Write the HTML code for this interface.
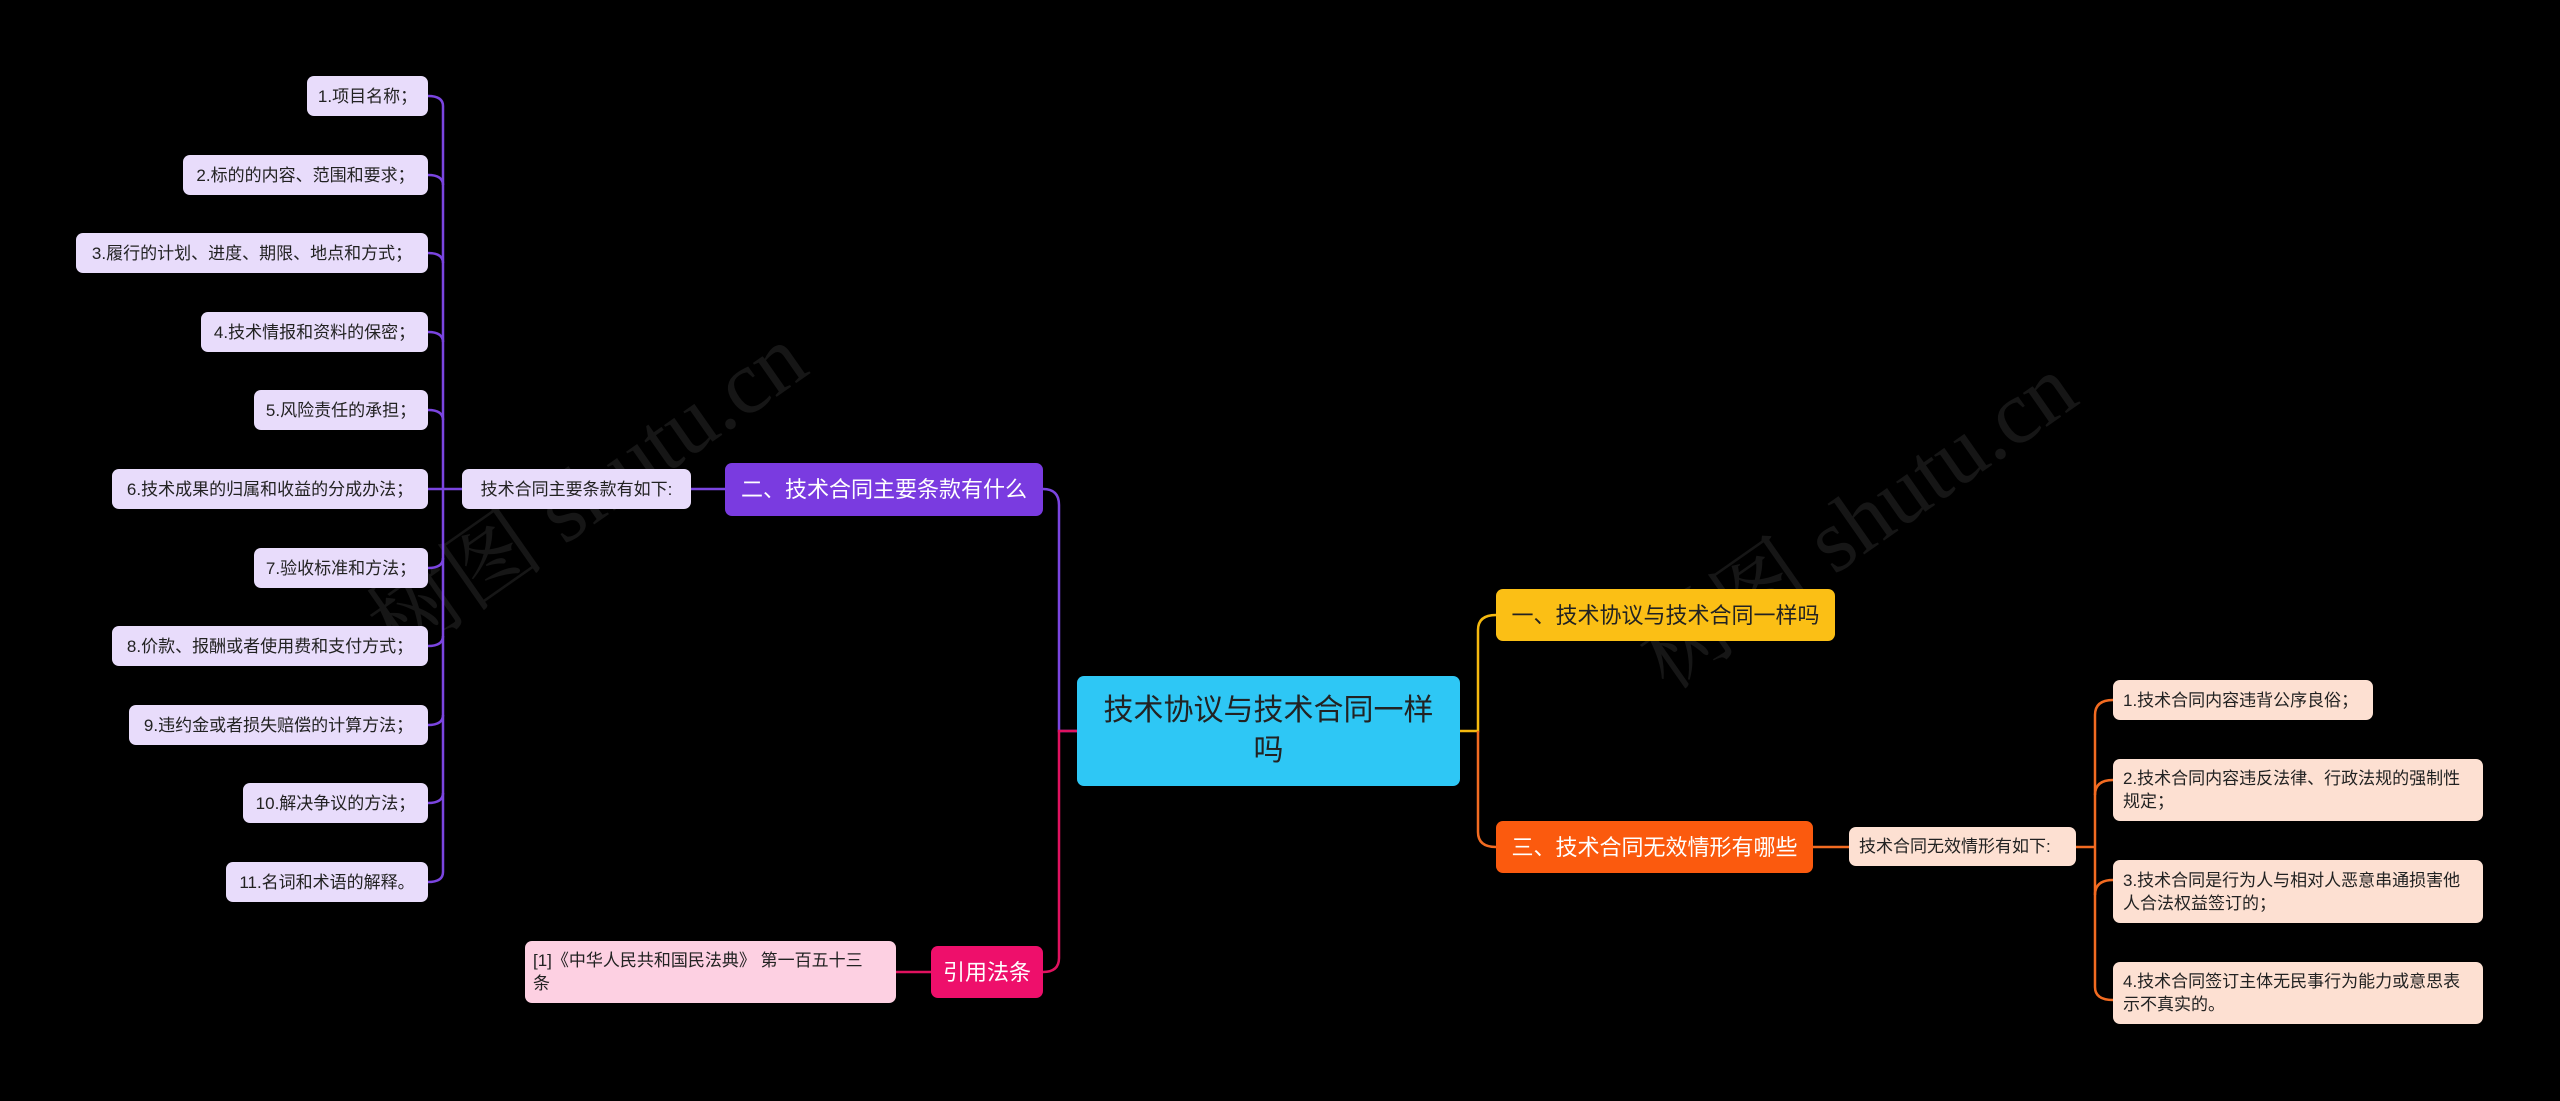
<!DOCTYPE html>
<html><head><meta charset="utf-8"><style>
body{margin:0;width:2560px;height:1101px;background:#000;position:relative;overflow:hidden;font-family:"Liberation Sans","Noto Sans CJK SC",sans-serif}
.n{position:absolute;box-sizing:border-box;display:flex;align-items:center;border-radius:7px;color:#222;font-size:17px;padding:0 10px;line-height:23px}
.p{background:#e8dcfb;justify-content:center;white-space:nowrap;padding:0 4px}
.o{background:#fde0d2}
.wm{position:absolute;color:#161616;font-size:90px;transform:rotate(-35deg);font-family:"Liberation Serif","Noto Serif CJK SC",serif;white-space:nowrap}
</style></head><body>
<div class="wm" style="left:330px;top:420px">树图 shutu.cn</div>
<div class="wm" style="left:1600px;top:450px">树图 shutu.cn</div>
<svg width="2560" height="1101" style="position:absolute;left:0;top:0" fill="none" stroke-width="2.5">
<g stroke="#7b45e0">
<path d="M443 106V872"/>
<path d="M428 96q15 0 15 10"/><path d="M428 175q15 0 15 10"/><path d="M428 253q15 0 15 10"/><path d="M428 332q15 0 15 10"/><path d="M428 410q15 0 15 10"/>
<path d="M428 489H462"/>
<path d="M428 568q15 0 15-10"/><path d="M428 646q15 0 15-10"/><path d="M428 725q15 0 15-10"/><path d="M428 803q15 0 15-10"/><path d="M428 882q15 0 15-10"/>
<path d="M691 489H725"/>
<path d="M1043 489q16 0 16 16V731q0 0 18 0"/>
</g>
<g stroke="#e0125f"><path d="M1077 731H1059V958q0 14-16 14"/><path d="M896 972H931"/></g>
<g stroke="#f5b90f"><path d="M1460 731H1478V630q0-15 18-15"/></g>
<g stroke="#f26b21"><path d="M1478 731V832q0 15 18 15"/><path d="M1813 847H1849"/><path d="M2076 847H2095"/>
<path d="M2095 715V987"/><path d="M2113 700q-18 0-18 15"/><path d="M2113 780q-18 0-18 15"/><path d="M2113 880q-18 0-18 15"/><path d="M2113 1000q-18 0-18-13"/></g>
</svg>
<div class="n p" style="left:307px;top:76px;width:121px;height:40px">1.项目名称；</div>
<div class="n p" style="left:183px;top:155px;width:245px;height:40px">2.标的的内容、范围和要求；</div>
<div class="n p" style="left:76px;top:233px;width:352px;height:40px">3.履行的计划、进度、期限、地点和方式；</div>
<div class="n p" style="left:201px;top:312px;width:227px;height:40px">4.技术情报和资料的保密；</div>
<div class="n p" style="left:254px;top:390px;width:174px;height:40px">5.风险责任的承担；</div>
<div class="n p" style="left:112px;top:469px;width:316px;height:40px">6.技术成果的归属和收益的分成办法；</div>
<div class="n p" style="left:254px;top:548px;width:174px;height:40px">7.验收标准和方法；</div>
<div class="n p" style="left:112px;top:626px;width:316px;height:40px">8.价款、报酬或者使用费和支付方式；</div>
<div class="n p" style="left:129px;top:705px;width:299px;height:40px">9.违约金或者损失赔偿的计算方法；</div>
<div class="n p" style="left:243px;top:783px;width:185px;height:40px">10.解决争议的方法；</div>
<div class="n p" style="left:226px;top:862px;width:202px;height:40px">11.名词和术语的解释。</div>
<div class="n p" style="left:462px;top:469px;width:229px;height:40px">技术合同主要条款有如下:</div>
<div class="n" style="left:725px;top:463px;width:318px;height:53px;background:#7a3be0;color:#fff;font-size:22px;justify-content:center">二、技术合同主要条款有什么</div>
<div class="n" style="left:1077px;top:676px;width:383px;height:110px;background:#2ec7f5;color:#222;font-size:30px;line-height:40px;text-align:center;justify-content:center;padding:0 20px">技术协议与技术合同一样吗</div>
<div class="n" style="left:931px;top:946px;width:112px;height:52px;background:#ee0f6b;color:#fff;font-size:22px;justify-content:center">引用法条</div>
<div class="n" style="left:525px;top:941px;width:371px;height:62px;background:#fdd0e2;font-size:17px;padding:0 8px;white-space:nowrap"><div>[1]《中华人民共和国民法典》 第一百五十三<br>条</div></div>
<div class="n" style="left:1496px;top:589px;width:339px;height:52px;background:#fbbf15;color:#222;font-size:22px;justify-content:center">一、技术协议与技术合同一样吗</div>
<div class="n" style="left:1496px;top:821px;width:317px;height:52px;background:#fb5a0e;color:#fff;font-size:22px;justify-content:center">三、技术合同无效情形有哪些</div>
<div class="n o" style="left:1849px;top:827px;width:227px;height:39px">技术合同无效情形有如下:</div>
<div class="n o" style="left:2113px;top:680px;width:260px;height:40px">1.技术合同内容违背公序良俗；</div>
<div class="n o" style="left:2113px;top:759px;width:370px;height:62px">2.技术合同内容违反法律、行政法规的强制性规定；</div>
<div class="n o" style="left:2113px;top:860px;width:370px;height:63px">3.技术合同是行为人与相对人恶意串通损害他人合法权益签订的；</div>
<div class="n o" style="left:2113px;top:962px;width:370px;height:62px">4.技术合同签订主体无民事行为能力或意思表示不真实的。</div>
</body></html>
